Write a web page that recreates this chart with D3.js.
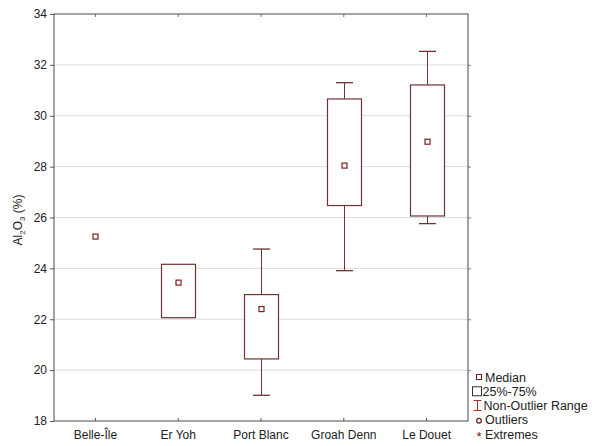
<!DOCTYPE html>
<html><head><meta charset="utf-8">
<script src="https://cdn.jsdelivr.net/npm/d3@7/dist/d3.min.js"></script>
<style>body{margin:0;background:#fff;}text{font-family:"Liberation Sans",Arial,sans-serif;}</style>
</head><body><svg id="c" width="592" height="446"></svg>
<script>
const categories = ["Belle-Île","Er Yoh","Port Blanc","Groah Denn","Le Douet"];
const medians   = [25.25, 23.44, 22.40, 28.04, 28.98];
const q1        = [null, 22.06, 20.44, 26.47, 26.06];
const q3        = [null, 24.16, 22.97, 30.66, 31.21];
const whiskLow  = [null, null, 19.01, 23.91, 25.76];
const whiskHigh = [null, null, 24.76, 31.30, 32.53];
const yTicks = [18,20,22,24,26,28,30,32,34];
const legendItems = ["Median","25%-75%","Non-Outlier Range","Outliers","Extremes"];

const svg = d3.select("#c");
const L=54, R=468, T=14, B=421;
const x = d3.scaleBand().domain(categories).range([L,R]);
const y = d3.scaleLinear().domain([18,34]).range([B,T]);
const stroke = "#6e3434", med = "#7a1f1f";

// grid
svg.append("g").selectAll("line").data(yTicks.slice(1,-1)).join("line")
  .attr("x1",L).attr("x2",R).attr("y1",d=>y(d)).attr("y2",d=>y(d))
  .attr("stroke","#dcdcdc").attr("stroke-width",1);

// axes
const gl = svg.append("g").attr("transform",`translate(${L},0)`)
  .call(d3.axisLeft(y).tickValues(yTicks).tickSize(4).tickPadding(3));
gl.select(".domain").remove();
gl.selectAll("line").attr("stroke","#555");
gl.selectAll("text").attr("font-size",12).attr("fill","#222");
const gr = svg.append("g").attr("transform",`translate(${R},0)`)
  .call(d3.axisRight(y).tickValues(yTicks.slice(1,-1)).tickSize(3).tickFormat(""));
gr.select(".domain").remove(); gr.selectAll("line").attr("stroke","#888");
const gb = svg.append("g").attr("transform",`translate(0,${B})`)
  .call(d3.axisBottom(x).tickSize(-3).tickPadding(9));
gb.select(".domain").remove();
gb.selectAll("line").attr("stroke","#555");
gb.selectAll("text").attr("font-size",12).attr("fill","#222");
const gt = svg.append("g").attr("transform",`translate(0,${T})`)
  .call(d3.axisTop(x).tickSize(-3).tickFormat(""));
gt.select(".domain").remove(); gt.selectAll("line").attr("stroke","#777");

// frame
svg.append("rect").attr("x",L).attr("y",T).attr("width",R-L).attr("height",B-T)
  .attr("fill","none").attr("stroke","#4a4a4a").attr("stroke-width",1);

const bw = 34, cw = 17;
categories.forEach((c,i)=>{
  const cx = Math.round(x(c)+x.bandwidth()/2)+0.5;
  const g = svg.append("g");
  if(whiskLow[i]!=null){
    g.append("line").attr("x1",cx).attr("x2",cx).attr("y1",y(whiskHigh[i])).attr("y2",y(q3[i])).attr("stroke",stroke);
    g.append("line").attr("x1",cx).attr("x2",cx).attr("y1",y(q1[i])).attr("y2",y(whiskLow[i])).attr("stroke",stroke);
    [whiskHigh[i],whiskLow[i]].forEach(v=>g.append("line").attr("x1",cx-cw/2).attr("x2",cx+cw/2)
      .attr("y1",y(v)).attr("y2",y(v)).attr("stroke",stroke).attr("stroke-width",1.3));
  }
  if(q1[i]!=null){
    g.append("rect").attr("x",cx-bw/2).attr("y",y(q3[i])).attr("width",bw).attr("height",y(q1[i])-y(q3[i]))
      .attr("fill","#fff").attr("stroke",stroke).attr("stroke-width",1.2);
  }
  g.append("rect").attr("x",cx-2.5).attr("y",y(medians[i])-2.5).attr("width",5).attr("height",5)
    .attr("fill","#fff").attr("stroke",med).attr("stroke-width",1.2);
});

// y title
svg.append("text").attr("transform","translate(22,220) rotate(-90)").attr("text-anchor","middle")
  .attr("font-size",12).attr("fill","#222")
  .html('Al<tspan font-size="8" dy="3">2</tspan><tspan dy="-3">O</tspan><tspan font-size="8" dy="3">3</tspan><tspan dy="-3"> (%)</tspan>');

// legend
const ly = d3.scalePoint().domain(legendItems).range([377,434]);
const textX = [485,482.5,483.5,485,485];
const lg = svg.append("g");
legendItems.forEach((t,i)=>{
  lg.append("text").attr("x",textX[i]).attr("y",ly(t)+4.5).attr("font-size",12.5).attr("fill","#222").text(t);
});
const sx = 479;
lg.append("rect").attr("x",sx-2.5).attr("y",ly("Median")-2.5).attr("width",5).attr("height",5).attr("fill","#fff").attr("stroke","#6a2020");
lg.append("rect").attr("x",472.5).attr("y",ly("25%-75%")-4.5).attr("width",9).attr("height",9).attr("fill","#fff").attr("stroke","#333");
const wy = ly("Non-Outlier Range"), wx = 477.5;
lg.append("line").attr("x1",wx).attr("x2",wx).attr("y1",wy-5).attr("y2",wy+5).attr("stroke","#b03030");
lg.append("line").attr("x1",wx-4).attr("x2",wx+4).attr("y1",wy-5).attr("y2",wy-5).attr("stroke","#b03030");
lg.append("line").attr("x1",wx-4).attr("x2",wx+4).attr("y1",wy+5).attr("y2",wy+5).attr("stroke","#b03030");
lg.append("circle").attr("cx",sx).attr("cy",ly("Outliers")+1).attr("r",2.3).attr("fill","none").attr("stroke","#6a2020").attr("stroke-width",1.2);
lg.append("text").attr("x",sx).attr("y",ly("Extremes")+7).attr("text-anchor","middle").attr("font-size",13).attr("fill","#6a2020").text("*");
</script></body></html>
